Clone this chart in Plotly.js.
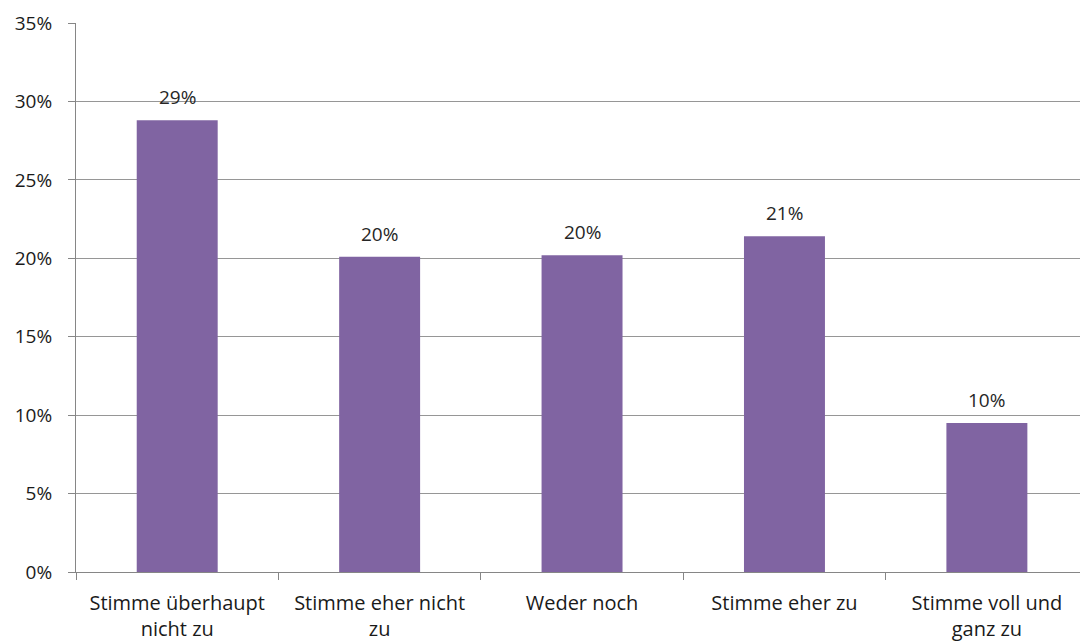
<!DOCTYPE html>
<html>
<head>
<meta charset="utf-8">
<script src="https://cdn.plot.ly/plotly-3.0.1.min.js"></script>
<style>html,body{margin:0;padding:0;background:#fff;}#chart{width:1080px;height:644px;}</style>
</head>
<body>
<div id="chart"></div>
<script>
const categories = ["Stimme überhaupt<br>nicht zu", "Stimme eher nicht<br>zu", "Weder noch", "Stimme eher zu", "Stimme voll und<br>ganz zu"];
const values = [28.8, 20.1, 20.2, 21.4, 9.5];
const labels = ["29%", "20%", "20%", "21%", "10%"];
const yTicks = [0, 5, 10, 15, 20, 25, 30, 35];
const yTickLabels = ["0%", "5%", "10%", "15%", "20%", "25%", "30%", "35%"];

const font = "Open Sans, Noto Sans, sans-serif";

const trace = {
  type: "bar",
  x: categories,
  y: values,
  width: 0.4,
  marker: {color: "#8064A2", line: {width: 0}},
  hoverinfo: "skip"
};

const annotations = categories.map((c, i) => ({
  x: c, y: values[i], xref: "x", yref: "y",
  text: labels[i], showarrow: false,
  yanchor: "bottom", yshift: 8,
  font: {family: font, size: 19, color: "#262626"}
}));

const layout = {
  width: 1080, height: 644,
  margin: {l: 76, r: 0, t: 23, b: 72},
  paper_bgcolor: "#fff", plot_bgcolor: "#fff",
  showlegend: false,
  xaxis: {
    type: "category",
    range: [-0.5, 4.46],
    ticks: "outside", tickson: "boundaries", ticklen: 7, tickcolor: "#868686", tickwidth: 1,
    showline: true, linecolor: "#868686", linewidth: 1,
    showgrid: false, zeroline: false,
    ticklabelstandoff: 13,
    tickfont: {family: font, size: 20, color: "#1a1a1a"},
    fixedrange: true
  },
  yaxis: {
    range: [0, 35],
    tickvals: yTicks, ticktext: yTickLabels,
    ticks: "outside", ticklen: 7, tickcolor: "#868686", tickwidth: 1,
    showline: true, linecolor: "#868686", linewidth: 1,
    showgrid: true, gridcolor: "#969696", gridwidth: 1,
    zeroline: false,
    ticklabelstandoff: 12,
    tickfont: {family: font, size: 19, color: "#1a1a1a"},
    fixedrange: true
  },
  annotations: annotations
};

Plotly.newPlot("chart", [trace], layout, {displayModeBar: false, staticPlot: true});
</script>
</body>
</html>
